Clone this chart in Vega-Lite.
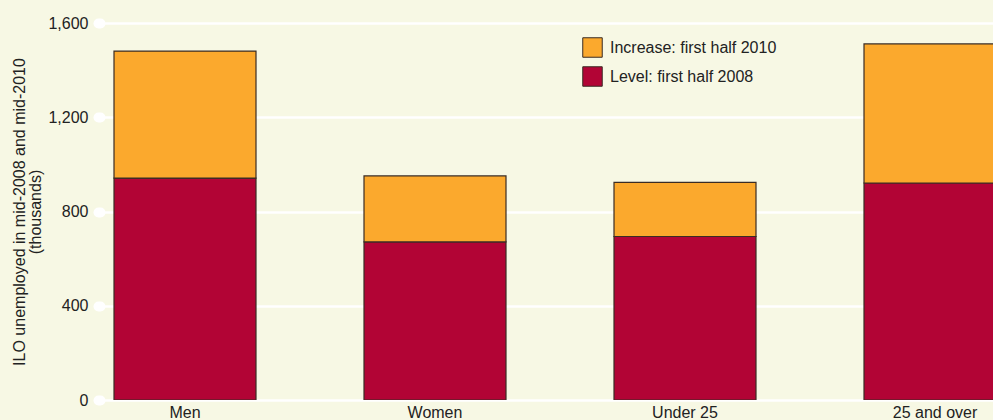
{
  "$schema": "https://vega.github.io/schema/vega-lite/v6.json",
  "width": 893,
  "height": 377,
  "autosize": "none",
  "padding": {"left": 100, "top": 23, "right": 0, "bottom": 20},
  "background": "#f7f8e4",
  "config": {
    "view": {"stroke": null, "fill": "#f7f8e4"},
    "font": "Liberation Sans"
  },
  "data": {
    "values": [
      {"category": "Men", "series": "Level: first half 2008", "value": 942, "ord": 1},
      {"category": "Men", "series": "Increase: first half 2010", "value": 539, "ord": 2},
      {"category": "Women", "series": "Level: first half 2008", "value": 671, "ord": 1},
      {"category": "Women", "series": "Increase: first half 2010", "value": 280, "ord": 2},
      {"category": "Under 25", "series": "Level: first half 2008", "value": 694, "ord": 1},
      {"category": "Under 25", "series": "Increase: first half 2010", "value": 230, "ord": 2},
      {"category": "25 and over", "series": "Level: first half 2008", "value": 921, "ord": 1},
      {"category": "25 and over", "series": "Increase: first half 2010", "value": 590, "ord": 2}
    ]
  },
  "mark": {"type": "bar", "stroke": "#3a2c24", "strokeWidth": 1.2, "clip": true},
  "encoding": {
    "x": {
      "field": "category",
      "type": "nominal",
      "sort": ["Men", "Women", "Under 25", "25 and over"],
      "scale": {"range": [0, 920], "paddingInner": 0.432, "paddingOuter": 0.056},
      "axis": {
        "title": null,
        "labelAngle": 0,
        "domain": false,
        "ticks": false,
        "labelFontSize": 16,
        "labelColor": "#222222",
        "labelPadding": 4
      }
    },
    "y": {
      "field": "value",
      "type": "quantitative",
      "stack": "zero",
      "scale": {"domain": [0, 1600]},
      "axis": {
        "values": [0, 400, 800, 1200, 1600],
        "format": ",.0f",
        "title": ["ILO unemployed in mid-2008 and mid-2010", "(thousands)"],
        "titleFontSize": 16,
        "titleFontWeight": "normal",
        "titleColor": "#222222",
        "titlePadding": 4,
        "titleLineHeight": 16,
        "labelFontSize": 16,
        "labelColor": "#222222",
        "labelPadding": 10,
        "domain": false,
        "grid": true,
        "gridColor": "#ffffff",
        "gridWidth": 2.5,
        "gridOpacity": 1,
        "tickColor": "#ffffff",
        "tickSize": 2,
        "tickWidth": 10,
        "tickCap": "round",
        "tickOffset": 0
      }
    },
    "color": {
      "field": "series",
      "type": "nominal",
      "scale": {
        "domain": ["Increase: first half 2010", "Level: first half 2008"],
        "range": ["#fba92d", "#b20435"]
      },
      "legend": {
        "title": null,
        "orient": "none",
        "legendX": 482,
        "legendY": 14,
        "symbolType": "square",
        "symbolSize": 380,
        "symbolStrokeColor": "#3a2c24",
        "symbolStrokeWidth": 1,
        "labelFontSize": 16,
        "labelLimit": 400,
        "labelColor": "#222222",
        "rowPadding": 4,
        "labelOffset": 7
      }
    },
    "order": {"field": "ord", "type": "quantitative"}
  }
}
